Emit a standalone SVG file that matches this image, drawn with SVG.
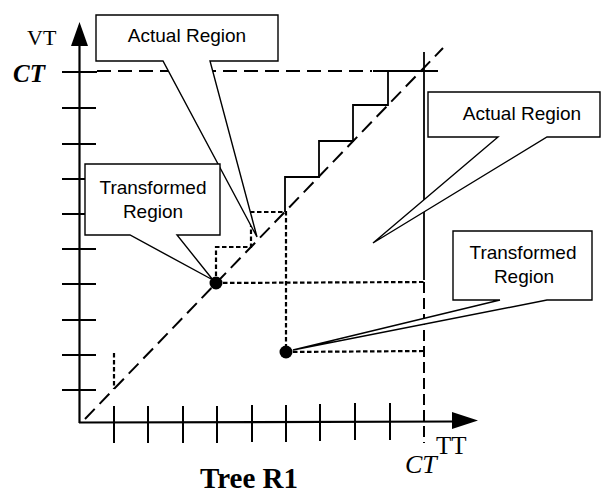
<svg xmlns="http://www.w3.org/2000/svg" width="604" height="493" viewBox="0 0 604 493">
<style>
.ax{stroke:#000;stroke-width:2.2;fill:none}
.tk{stroke:#000;stroke-width:2;fill:none}
.dash{stroke:#000;stroke-width:2;fill:none;stroke-dasharray:14 7}
.dot{stroke:#000;stroke-width:2.2;fill:none;stroke-dasharray:4.5 2.5}
.solid{stroke:#000;stroke-width:1.8;fill:none}
.call{stroke:#000;stroke-width:1.4;fill:#fff;stroke-linejoin:miter}
.lbl{font-family:"Liberation Sans",Arial,sans-serif;font-size:19px;fill:#000;text-anchor:middle}
.serif{font-family:"Liberation Serif","Times New Roman",serif;fill:#000}
</style>
<rect width="604" height="493" fill="#fff"/>
<g id="axes">
<line class="ax" x1="79.5" y1="40" x2="79.5" y2="423"/>
<polygon points="79.5,22 88,46 71,46" fill="#000"/>
<line class="ax" x1="79" y1="422.5" x2="456" y2="421.5"/>
<polygon points="478,420.5 452,412 452,429" fill="#000"/>
</g>
<g id="y-ticks" class="tk">
<line x1="62" y1="72" x2="97" y2="72"/>
<line x1="62" y1="108" x2="96" y2="108"/>
<line x1="62" y1="144" x2="96" y2="144"/>
<line x1="62" y1="179" x2="96" y2="179"/>
<line x1="62" y1="214" x2="96" y2="214"/>
<line x1="62" y1="249" x2="96" y2="249"/>
<line x1="62" y1="284" x2="96" y2="284"/>
<line x1="62" y1="320" x2="96" y2="320"/>
<line x1="62" y1="355" x2="96" y2="355"/>
<line x1="62" y1="390" x2="96" y2="390"/>
</g>
<g id="x-ticks" class="tk">
<line x1="114" y1="406" x2="114" y2="443"/>
<line x1="148" y1="406" x2="148" y2="443"/>
<line x1="183" y1="406" x2="183" y2="443"/>
<line x1="217" y1="406" x2="217" y2="443"/>
<line x1="252" y1="405" x2="252" y2="442"/>
<line x1="286" y1="405" x2="286" y2="442"/>
<line x1="320" y1="404" x2="320" y2="441"/>
<line x1="355" y1="403" x2="355" y2="440"/>
<line x1="390" y1="403" x2="390" y2="440"/>
</g>
<g id="connectors">
<line class="dash" x1="97" y1="71" x2="372" y2="71"/>
<line class="solid" x1="373" y1="71" x2="438" y2="71"/>
<line class="dash" x1="85" y1="419" x2="443" y2="48"/>
<line class="solid" x1="424" y1="52" x2="424" y2="280"/>
<line class="dash" x1="424" y1="282" x2="424" y2="443" style="stroke-dasharray:11 5"/>
<path class="solid" d="M285,212 V177 H319 V141 H353 V105 H388 V71"/>
<path class="dot" d="M216,283 V247 H251 V212 H286 V352"/>
<line class="dot" x1="216" y1="283" x2="424" y2="282"/>
<line class="dot" x1="286" y1="352" x2="424" y2="351"/>
<line class="dot" x1="114" y1="353" x2="114" y2="389"/>
</g>
<g id="point-1"><circle cx="216" cy="283" r="6.5" fill="#000"/></g>
<g id="point-2"><circle cx="286" cy="352" r="6.5" fill="#000"/></g>
<g id="callout-actual-top">
<polygon class="call" points="96,15 278,15 278,61 210,61 257,237 163,61 96,61"/>
<text class="lbl" x="187" y="42">Actual Region</text>
</g>
<g id="callout-transformed-left">
<polygon class="call" points="85,164 220,164 220,235 177,235 213,280 130,235 85,235"/>
<text class="lbl" x="153" y="194">Transformed</text>
<text class="lbl" x="153" y="218">Region</text>
</g>
<g id="callout-actual-right">
<polygon class="call" points="428,92 600,92 600,137 547,137 373,243 498,137 428,137"/>
<text class="lbl" x="522" y="120">Actual Region</text>
</g>
<g id="callout-transformed-right">
<polygon class="call" points="453,231 592,231 592,300 547,300 293,350 500,300 453,300"/>
<text class="lbl" x="523" y="259">Transformed</text>
<text class="lbl" x="524" y="283">Region</text>
</g>
<g id="labels">
<text class="serif" x="27" y="45" font-size="22">VT</text>
<text class="serif" x="13" y="82" font-size="25" font-style="italic" font-weight="bold">CT</text>
<text class="serif" x="405" y="473" font-size="26" font-style="italic">CT</text>
<text class="serif" x="436" y="454" font-size="25">TT</text>
<text class="serif" x="249" y="488" font-size="29" font-weight="bold" text-anchor="middle">Tree R1</text>
</g>
</svg>
